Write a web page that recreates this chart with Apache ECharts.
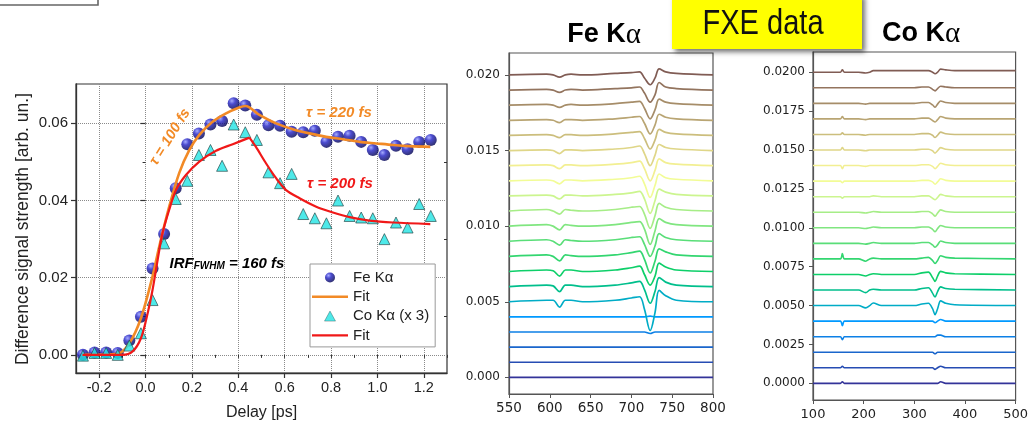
<!DOCTYPE html>
<html><head><meta charset="utf-8">
<script src="https://cdn.jsdelivr.net/npm/echarts@6/dist/echarts.min.js"></script>
<style>html,body{margin:0;padding:0;background:#fff}#c{width:1031px;height:424px}</style>
</head><body><div id="c"></div>
<script>
// ---------- Left panel: kinetics ----------
const DELAY = [-0.27,-0.22,-0.17,-0.12,-0.07,-0.02,0.03,0.08,0.13,0.18,0.23,0.28,0.33,0.38,0.43,0.48,0.53,0.58,0.63,0.68,0.73,0.78,0.83,0.88,0.93,0.98,1.03,1.08,1.13,1.18,1.23];
const FE_SIGNAL = [0.0000,0.0006,0.0006,0.0005,0.0037,0.0099,0.0224,0.0313,0.0432,0.0546,0.0574,0.0597,0.0606,0.0652,0.0646,0.0622,0.0595,0.0594,0.0578,0.0577,0.0581,0.0552,0.0565,0.0568,0.0552,0.0531,0.0518,0.0542,0.0533,0.0552,0.0557];
const CO_SIGNAL = [-0.0002,0.0005,0.0005,0.0000,0.0024,0.0056,0.0142,0.0289,0.0404,0.0451,0.0518,0.0531,0.0490,0.0597,0.0577,0.0557,0.0473,0.0445,0.0469,0.0365,0.0354,0.0341,0.0400,0.0360,0.0356,0.0354,0.0300,0.0343,0.0330,0.0391,0.0360];
const FE_FIT_X = [-0.272,-0.12,-0.07,-0.02,0.03,0.059,0.102,0.145,0.189,0.232,0.289,0.347,0.404,0.431,0.491,0.563,0.635,0.707,0.779,0.851,0.923,0.995,1.067,1.139,1.228];
const FE_FIT_Y = [0,0.0003,0.0030,0.0095,0.0203,0.0281,0.0384,0.0471,0.0531,0.0570,0.0604,0.0626,0.0641,0.0645,0.0622,0.0600,0.0585,0.0574,0.0565,0.0559,0.0552,0.0548,0.0544,0.0541,0.0539];
const CO_FIT_X = [-0.272,-0.10,-0.056,-0.02,0.009,0.030,0.052,0.073,0.102,0.131,0.174,0.232,0.304,0.376,0.448,0.476,0.520,0.563,0.606,0.664,0.736,0.808,0.880,0.966,1.067,1.228];
const CO_FIT_Y = [0,0,0.0009,0.0043,0.0108,0.0168,0.0246,0.0315,0.0376,0.0427,0.0466,0.0501,0.0529,0.0546,0.0563,0.0539,0.0496,0.0458,0.0427,0.0406,0.0384,0.0369,0.0357,0.0348,0.0343,0.0339];
const CO_FIT_PEAK = 14; // index of the cusp
const X_TICKS = [-0.2,0,0.2,0.4,0.6,0.8,1.0,1.2];
const Y_TICKS = [0,0.02,0.04,0.06];
const Y_MINOR = [0.01,0.03,0.05];

// ---------- Spectra panels ----------
const OFFSETS = [0,0.001,0.002,0.003,0.004,0.005,0.006,0.007,0.008,0.009,0.010,0.011,0.012,0.013,0.014,0.015,0.016,0.017,0.018,0.019,0.020];
const TRACE_COLORS = ['#333399','#264db3','#1a66cc','#0d80e6','#0099ff','#00acc6','#00bf8c','#0dcf69','#33d670','#59de78','#80e680','#a6ed87','#ccf58f','#f2fc96','#f2ef92','#dfd688','#ccbe7d','#b9a573','#a68d69','#93745e','#805c54'];
const FE_X = [550,596,604,612,619,626,640,680,700,710,716,723,729,734,742,755,800];
// deviations from each trace's offset, in units of 1e-4
const FE_DEV = [
 [0,0,0,0,0,0,0,0,0,0,0,0,0,0,0,0,0],
 [0,0,0,0,0,0,0,0,0,0,0,0,0,0,0,0,0],
 [0,0,0,0,0,0,0,0,0,0,0,0,0,0,0,0,0],
 [0,0,0,0,0,0,0,0,0,0,0,-1,0,0,0,0,0],
 [0,0,0,0,0,0,0,0,0,0,0,0.5,0,0,0,0,0],
 [0,1,1,-3.5,1,1,0,1,2.5,3.3,-5,-19,-7,7.5,4,1,0],
 [0,1,0.5,-3.3,1,1,0,1,2.5,3.5,-2,-11,-3,6,3,1,0],
 [0,1,0.5,-3,1,1,0,1,2.5,3.5,-2,-9,-3,5.5,3,1,0],
 [0,1,0,-3,1,0.5,0,1,2.5,3.5,-2,-11,-3,5,3,1,0],
 [0,1,0,-2.5,1,0.5,0,1,2.5,3,-2,-10,-3,5,2.5,1,0],
 [0,1,0,-2.5,1,0.5,0,1,2.5,3,-2,-12,-3,5,2.5,1,0],
 [0,1,0,-2,1,0.5,0,1,2.5,3,-2,-11.5,-3,5,2.5,1,0],
 [0,0.5,0,-2,0.5,0.5,0,1,2,3,-2,-11.5,-3,4.5,2.5,1,0],
 [0,0.5,0,-2,0.5,0.5,0,1,2,3,-2,-11,-3,4.5,2,1,0],
 [0,0.5,0,-2,0.5,0.5,0,1,2,3,-2,-10,-3,4.5,2,1,0],
 [0,0.5,0,-2,0.5,0.5,0,1,2,3,-2,-10,-3,4,2,1,0],
 [0,0.5,0,-1.5,0.5,0.5,0,1,2,2.5,-2,-9,-3,4,2,1,0],
 [0,0.5,0,-1.5,0.5,0.5,0,1,2,2.5,-2,-9,-3,4,2,1,0],
 [0,0.5,0,-1.5,0,0.5,0,1,2,2.5,-2,-9,-3,4,2,1,0],
 [0,0.5,0,-1.5,0,0.5,0,1,1.5,2,-2,-8,-3,5,2,1,0],
 [0,0.5,0,-1.5,0,0.5,0,1,1.5,2,-2,-6.5,-2,4,2,1,0]
];
const CO_X = [100,154,158,162,190,204,212,219,235,300,315,328,336,341,346,352,362,380,500];
const CO_DEV = [
 [0,0,1,0,0,0,0,0,0,0,0,0,0,0,0,1,0,0,0],
 [0,0,1,0,0,0,0,0,0,0,0,0,0,-1,0,1,0,0,0],
 [0,0,0,0,0,0,0,0,0,0,0,0,0,-1,0,0,0,0,0],
 [0,0,-2,0,0,0,0,0,0,0,0,0,0,0,1,1,0,0,0],
 [0,0,-3,0,0,0,0,0,0,0,0,0,0,-1,0,1,0,0,0],
 [0,0,0,0,0,-1.5,0,1.7,0,0,1,1.5,-2,-5.8,-2,3,1.5,0.5,0],
 [0,0,0,0,0,-1.7,0,0.5,0,0,1,1.5,-2,-4.5,-1,2,1,0.5,0],
 [0,0,0,0,0,-1,0,0.5,0,0,1,1.5,-2,-4.5,-1,2,1,0.5,0],
 [0,0,3.5,0,0,-1.5,0,0.5,0,0,0.5,1,-1,-3,-1,2,1,0.5,0],
 [0,0,0,0,0,-0.5,0,0.5,0,0,0.5,0.5,-1,-2.5,-1,1.5,0.5,0,0],
 [0,0,0,0,0,-0.5,0,0.5,0,0,0.5,0.5,-1,-2.5,-0.5,1.5,0.5,0,0],
 [0,0,0,0,0,-0.5,0,0.5,0,0,0.5,0.5,-1,-2.5,-0.5,1.5,0.5,0,0],
 [0,0,-1,0,0,0,0,0.5,0,0,0.5,0.5,-1,-2,-0.5,1.5,0.5,0,0],
 [0,0,-1,0,0,0,0,0,0,0,0.5,0.5,-0.5,-2,-0.5,1.5,0.5,0,0],
 [0,0,-2,0,0,-0.5,0,0,0,0,0.5,0.5,-0.5,-2,-0.5,1.5,0.5,0,0],
 [0,0,1.5,0,0,-0.5,0,0,0,0,0.5,0.5,-0.5,-2,-0.5,1.5,0.5,0,0],
 [0,0,1,0,0,-0.5,0,0,0,0,0.5,0.5,-0.5,-2,-0.5,1.5,0.5,0,0],
 [0,0,1.5,0,0,-0.5,0,0,0,0,0.5,0.5,-1,-2,-0.5,1.5,0.5,0,0],
 [0,0,0,0,0,-0.5,0,0,0,0,0.5,0.5,-1,-2.5,-0.5,1.5,0.5,0,0],
 [0,0,0,0,0,0,0,0,0,0,0.5,0.5,-1,-2,-0.5,1,0.5,0,0],
 [0,0,1.5,0,0,-0.5,0,1,1,1,1,1,0,-1,0,2,1.5,1,1]
];
const FE_Y_TICKS = [0,0.005,0.010,0.015,0.020];
const CO_Y_TICKS = [0,0.0025,0.005,0.0075,0.010,0.0125,0.015,0.0175,0.020];

// ---------- build ----------
const chart = echarts.init(document.getElementById('c'), null, {renderer:'canvas'});
const SANS = 'Liberation Sans';
const DJ = 'DejaVu Sans';
const zip = (xs, ys) => xs.map((x, i) => [x, ys[i]]);
const ORANGE = '#f28a26', RED = '#f01818', CYAN = '#22e4e4';

const series = [];
series.push({
  name:'Fe Kα', type:'scatter', xAxisIndex:0, yAxisIndex:0, symbol:'circle', symbolSize:12,
  data: zip(DELAY, FE_SIGNAL),
  itemStyle:{color:new echarts.graphic.RadialGradient(0.35,0.3,0.72,[
    {offset:0,color:'#8f96ff'},{offset:0.38,color:'#1f1fc4'},{offset:1,color:'#000050'}])},
  z:3
});
series.push({
  name:'Fit', type:'line', xAxisIndex:0, yAxisIndex:0, symbol:'none', smooth:0.3,
  data: zip(FE_FIT_X, FE_FIT_Y), lineStyle:{color:ORANGE, width:2.6}, itemStyle:{color:ORANGE}, z:4
});
series.push({
  name:'Co Kα (x 3)', type:'scatter', xAxisIndex:0, yAxisIndex:0, symbol:'triangle', symbolSize:11,
  data: zip(DELAY, CO_SIGNAL),
  itemStyle:{color:CYAN, borderColor:'#1d3d3d', borderWidth:0.8}, z:5
});
const coFit = zip(CO_FIT_X, CO_FIT_Y);
series.push({
  name:'Fit ', type:'line', xAxisIndex:0, yAxisIndex:0, symbol:'none', smooth:0.3,
  data: coFit.slice(0, CO_FIT_PEAK + 1), lineStyle:{color:RED, width:2.2}, itemStyle:{color:RED}, z:6
});
series.push({
  name:'co-fit-decay', type:'line', xAxisIndex:0, yAxisIndex:0, symbol:'none', smooth:0.3,
  data: coFit.slice(CO_FIT_PEAK), lineStyle:{color:RED, width:2.2}, z:6
});
FE_DEV.forEach((dev, i) => {
  series.push({
    name:'fe-'+i, type:'line', xAxisIndex:2, yAxisIndex:4, symbol:'none', smooth:0.35,
    data: FE_X.map((x, j) => [x, OFFSETS[i] + dev[j]*1e-4]),
    lineStyle:{color:TRACE_COLORS[i], width:1.7}, z:2
  });
});
CO_DEV.forEach((dev, i) => {
  series.push({
    name:'co-'+i, type:'line', xAxisIndex:3, yAxisIndex:5, symbol:'none', smooth:0.3,
    data: CO_X.map((x, j) => [x, OFFSETS[i] + dev[j]*1e-4]),
    lineStyle:{color:TRACE_COLORS[i], width:1.6}, z:2
  });
});

const hidden = {axisLine:{show:false}, axisLabel:{show:false}, splitLine:{show:false}};
const option = {
  animation:false,
  backgroundColor:'#ffffff',
  grid:[
    {left:76, top:84, width:371, height:289, show:true, borderColor:'#333', borderWidth:1.2, backgroundColor:'transparent'},
    {left:509, top:53, width:204, height:341, show:true, borderColor:'#555', borderWidth:1.2, backgroundColor:'transparent'},
    {left:813, top:52, width:208, height:348, show:true, borderColor:'#555', borderWidth:1.2, backgroundColor:'transparent'}
  ],
  xAxis:[
    {type:'value', gridIndex:0, position:'bottom', min:-0.3, max:1.3, splitNumber:8,
     axisLine:{show:true, onZero:false, lineStyle:{color:'#333', width:1.3}},
     axisTick:{show:true, length:5, customValues:X_TICKS, lineStyle:{color:'#333', width:1.2}},
     axisLabel:{customValues:X_TICKS, margin:7, fontSize:14.5, fontFamily:SANS, color:'#222', formatter:v=>Number(v).toFixed(1)},
     splitLine:{show:true, lineStyle:{type:'dotted', color:'#8a8a8a', width:1}}},
    Object.assign({type:'value', gridIndex:0, position:'bottom', min:-0.3, max:1.3, interval:0.1,
     axisTick:{show:true, length:3, lineStyle:{color:'#333', width:1}}}, hidden),
    {type:'value', gridIndex:1, min:550, max:800, interval:50,
     axisLine:{show:true, onZero:false, lineStyle:{color:'#555', width:1.2}},
     axisTick:{show:true, length:4, lineStyle:{color:'#555'}},
     axisLabel:{margin:7, fontSize:13.5, fontFamily:DJ, color:'#222'},
     splitLine:{show:false}},
    {type:'value', gridIndex:2, min:100, max:500, interval:100,
     axisLine:{show:true, onZero:false, lineStyle:{color:'#555', width:1.2}},
     axisTick:{show:true, length:4, lineStyle:{color:'#555'}},
     axisLabel:{margin:8, fontSize:13, fontFamily:DJ, color:'#222'},
     splitLine:{show:false}}
  ],
  yAxis:[
    {type:'value', gridIndex:0, position:'left', min:-0.0047, max:0.0702, splitNumber:4,
     axisLine:{show:true, onZero:false, lineStyle:{color:'#333', width:1.3}},
     axisTick:{show:true, length:5, customValues:Y_TICKS, lineStyle:{color:'#333', width:1.2}},
     axisLabel:{customValues:Y_TICKS, margin:8, fontSize:15, fontFamily:SANS, color:'#222', formatter:v=>Number(v).toFixed(2)},
     splitLine:{show:true, lineStyle:{type:'dotted', color:'#8a8a8a', width:1}}},
    Object.assign({type:'value', gridIndex:0, position:'left', min:-0.0047, max:0.0702,
     axisTick:{show:true, length:3, customValues:Y_MINOR, lineStyle:{color:'#333'}}}, hidden),
    Object.assign({type:'value', gridIndex:0, position:'right', min:-0.0047, max:0.0702,
     axisTick:{show:true, inside:true, length:5, customValues:Y_TICKS, lineStyle:{color:'#333', width:1.2}}}, hidden),
    Object.assign({type:'value', gridIndex:0, position:'right', min:-0.0047, max:0.0702,
     axisTick:{show:true, inside:true, length:3, customValues:Y_MINOR, lineStyle:{color:'#333'}}}, hidden),
    {type:'value', gridIndex:1, min:-0.0011, max:0.02145,
     axisLine:{show:true, onZero:false, lineStyle:{color:'#555', width:1.2}},
     axisTick:{show:true, length:4, customValues:FE_Y_TICKS, lineStyle:{color:'#555'}},
     axisLabel:{customValues:FE_Y_TICKS, margin:9, fontSize:12, fontFamily:DJ, color:'#222', formatter:v=>Number(v).toFixed(3)},
     splitLine:{show:false}},
    {type:'value', gridIndex:2, min:-0.00107, max:0.0213,
     axisLine:{show:true, onZero:false, lineStyle:{color:'#555', width:1.2}},
     axisTick:{show:true, length:4, customValues:CO_Y_TICKS, lineStyle:{color:'#555'}},
     axisLabel:{customValues:CO_Y_TICKS, margin:8, fontSize:12, fontFamily:DJ, color:'#222', formatter:v=>Number(v).toFixed(4)},
     splitLine:{show:false}}
  ],
  legend:{
    show:true, orient:'vertical', left:310, top:264, padding:[6,6,4,2],
    itemWidth:36, itemHeight:10, itemGap:4.3, selectedMode:false, symbolKeepAspect:true,
    borderColor:'#999', borderWidth:1, backgroundColor:'#fff',
    textStyle:{fontSize:15, fontFamily:SANS, color:'#222'},
    data:[
      {name:'Fe Kα', icon:'circle'},
      {name:'Fit', icon:'path://M0,0H36V2.6H0Z', itemStyle:{color:ORANGE, borderWidth:0}},
      {name:'Co Kα (x 3)', icon:'path://M5.5,0L11,10L0,10Z', itemStyle:{color:CYAN, borderColor:'#2a5050', borderWidth:0.5}},
      {name:'Fit ', icon:'path://M0,0H36V2.3H0Z', itemStyle:{color:RED, borderWidth:0}}
    ]
  },
  graphic:[
    {type:'rect', shape:{x:-4, y:-20, width:102, height:25}, style:{fill:'none', stroke:'#666', lineWidth:1.6}, z:10},
    {type:'rect', shape:{x:672, y:-6, width:190, height:55},
     style:{fill:'#ffff00', shadowBlur:5, shadowOffsetX:3, shadowOffsetY:3, shadowColor:'rgba(0,0,0,0.55)'}, z:10},
    {type:'text', x:763, y:24, scaleX:0.83, z:11,
     style:{text:'FXE data', font:'35px "Liberation Sans"', fill:'#111', align:'center', verticalAlign:'middle'}},
    {type:'text', x:604, y:35, z:11,
     style:{text:'{b|Fe K}{g|α}', align:'center', verticalAlign:'middle',
       rich:{b:{fontSize:27, fontWeight:'bold', fontFamily:SANS, color:'#111'},
             g:{fontSize:29, fontFamily:'Liberation Serif', color:'#111'}}}},
    {type:'text', x:921, y:34, z:11,
     style:{text:'{b|Co K}{g|α}', align:'center', verticalAlign:'middle',
       rich:{b:{fontSize:27, fontWeight:'bold', fontFamily:SANS, color:'#111'},
             g:{fontSize:29, fontFamily:'Liberation Serif', color:'#111'}}}},
    {type:'text', x:23, y:229, rotation:Math.PI/2, z:11,
     style:{text:'Difference signal strength [arb. un.]', font:'17.5px "Liberation Sans"', fill:'#222', align:'center', verticalAlign:'middle'}},
    {type:'text', x:261.5, y:413, z:11,
     style:{text:'Delay [ps]', font:'16px "Liberation Sans"', fill:'#222', align:'center', verticalAlign:'middle'}},
    {type:'text', x:339, y:113, z:11,
     style:{text:'τ = 220 fs', font:'italic bold 15px "Liberation Sans"', fill:ORANGE, align:'center', verticalAlign:'middle'}},
    {type:'text', x:340, y:184, z:11,
     style:{text:'τ = 200 fs', font:'italic bold 15px "Liberation Sans"', fill:RED, align:'center', verticalAlign:'middle'}},
    {type:'text', x:170, y:137, rotation:58*Math.PI/180, z:11,
     style:{text:'τ = 100 fs', font:'italic bold 14.5px "Liberation Sans"', fill:ORANGE, align:'center', verticalAlign:'middle'}},
    {type:'text', x:227, y:262, z:11,
     style:{text:'{a|IRF}{s|FWHM}{a| = 160 fs}', align:'center', verticalAlign:'middle',
       rich:{a:{fontSize:15, fontStyle:'italic', fontWeight:'bold', fontFamily:SANS, color:'#111', lineHeight:18, verticalAlign:'bottom'},
             s:{fontSize:10, fontStyle:'italic', fontWeight:'bold', fontFamily:SANS, color:'#111', lineHeight:6, verticalAlign:'bottom'}}}}
  ],
  series: series
};
chart.setOption(option);
</script></body></html>
